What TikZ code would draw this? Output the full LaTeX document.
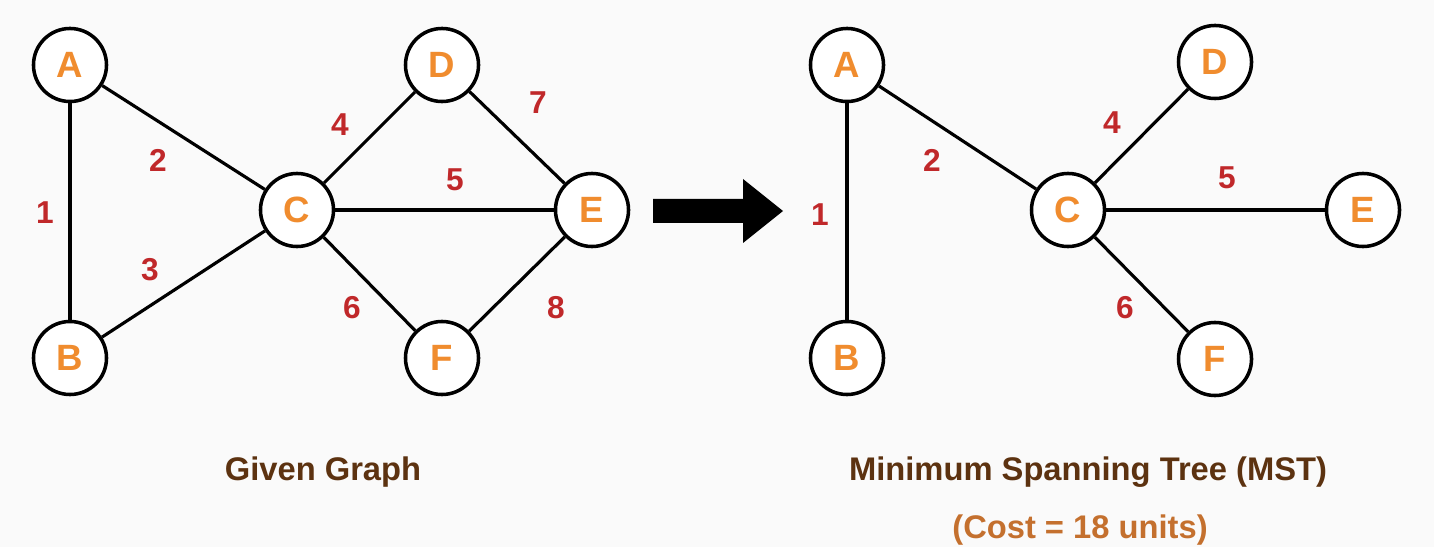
\documentclass[tikz,border=0pt]{standalone}
\usepackage{fontspec}
\setmainfont{Liberation Sans}
\usepackage{tikz}
\definecolor{vorange}{RGB}{240, 140, 46}
\definecolor{wred}{RGB}{192, 40, 42}
\definecolor{tbrown}{RGB}{92, 50, 16}
\definecolor{cbrown}{RGB}{196, 112, 46}
\definecolor{bggray}{RGB}{250, 250, 250}

\begin{document}
\begin{tikzpicture}[x=0.01cm, y=-0.01cm]
                \useasboundingbox (0,0) rectangle (1434,558);
                \fill [bggray] (0,0) rectangle (1434,547);

                \tikzstyle{vertex}=[circle, draw, line width=1pt, fill=white, minimum size=0.73cm, inner sep=0pt, text=vorange, font=\fontsize{10.4}{12}\selectfont\bfseries]
                \tikzstyle{weight}=[text=wred, font=\fontsize{9}{11}\selectfont\bfseries]
                \tikzstyle{link}=[line width=0.9pt]

                % given graph
                \node[vertex] (A) at (70,65) {A};
                \node[vertex] (B) at (70,358) {B};
                \node[vertex] (C) at (297,210) {C};
                \node[vertex] (D) at (442,65) {D};
                \node[vertex] (E) at (592,210) {E};
                \node[vertex] (F) at (442,358) {F};

                \draw[link] (A) -- (B);
                \draw[link] (A) -- (C);
                \draw[link] (B) -- (C);
                \draw[link] (C) -- (D);
                \draw[link] (C) -- (E);
                \draw[link] (C) -- (F);
                \draw[link] (D) -- (E);
                \draw[link] (F) -- (E);

                \node[weight] (w1) at (45,213) {1};
                \node[weight] (w2) at (158,160) {2};
                \node[weight] (w3) at (150,270) {3};
                \node[weight] (w4) at (340,125) {4};
                \node[weight] (w5) at (455,180) {5};
                \node[weight] (w6) at (352,308) {6};
                \node[weight] (w7) at (538,103) {7};
                \node[weight] (w8) at (556,308) {8};

                % arrow
                \fill (653,199) -- (743,199) -- (743,179) -- (783,211) -- (743,243) -- (743,223) -- (653,223) -- cycle;

                % spanning tree
                \node[vertex] (A2) at (847,65) {A};
                \node[vertex] (B2) at (847,358) {B};
                \node[vertex] (C2) at (1068,210) {C};
                \node[vertex] (D2) at (1215,62) {D};
                \node[vertex] (E2) at (1363,210) {E};
                \node[vertex] (F2) at (1215,359) {F};

                \draw[link] (A2) -- (B2);
                \draw[link] (A2) -- (C2);
                \draw[link] (C2) -- (D2);
                \draw[link] (C2) -- (E2);
                \draw[link] (C2) -- (F2);

                \node[weight] (v1) at (820,215) {1};
                \node[weight] (v2) at (932,160) {2};
                \node[weight] (v4) at (1112,123) {4};
                \node[weight] (v5) at (1227,178) {5};
                \node[weight] (v6) at (1125,308) {6};

                \tikzstyle{title}=[text=tbrown, font=\fontsize{9.3}{11}\selectfont\bfseries]
                \node[title] (T1) at (323,472) {Given Graph};
                \node[title] (T2) at (1088,472) {Minimum Spanning Tree (MST)};
                \node[title, text=cbrown] (T3) at (1080,530) {(Cost = 18 units)};
            \end{tikzpicture}
\end{document}
